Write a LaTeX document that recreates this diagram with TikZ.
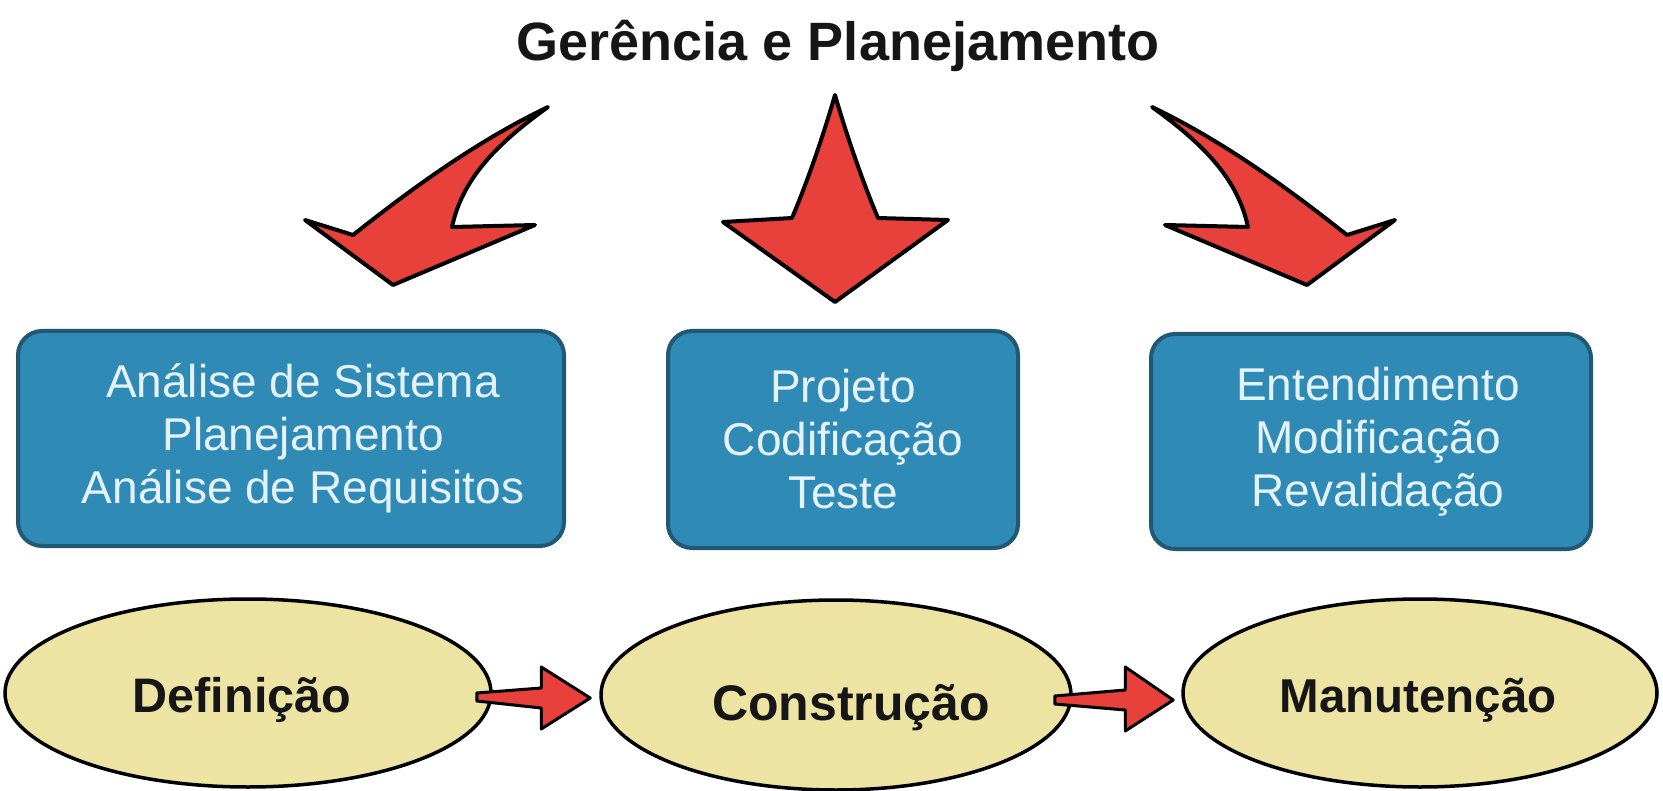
\documentclass[tikz,border=0pt]{standalone}
\usepackage{fontspec}
\setmainfont{Liberation Sans}
\usetikzlibrary{calc,shapes.geometric}
\definecolor{arrowred}{RGB}{232,64,58}
\definecolor{boxfill}{RGB}{47,138,181}
\definecolor{boxline}{RGB}{33,88,118}
\definecolor{boxtext}{RGB}{228,242,252}
\definecolor{ellfill}{RGB}{237,228,164}
\definecolor{inktext}{RGB}{22,22,22}
\tikzset{
  titletext/.style={font=\fontsize{54}{62}\selectfont\bfseries, text=inktext},
  phasebox/.style={draw=boxline, line width=4pt, fill=boxfill, rounded corners=24pt,
    inner sep=0pt},
  boxlabel/.style={align=center, text=boxtext, font=\fontsize{46}{53}\selectfont, inner sep=0pt},
  phaseell/.style={ellipse, draw=black, line width=3.5pt, fill=ellfill, inner sep=0pt},
  elltext/.style={text=inktext, inner sep=0pt},
  bigarrow/.style={draw=black, line width=4pt, fill=arrowred, line join=round},
  smallarrow/.style={draw=black, line width=3pt, fill=arrowred, line join=round}
}
\begin{document}
\begin{tikzpicture}[x=1pt,y=-1pt]
\useasboundingbox (0,0) rectangle (1663,791);

% title
\node[titletext, anchor=base] (title) at (838,61) {Gerência e Planejamento};

% big arrows
\filldraw[bigarrow] (548,107) .. controls (475,142) and (410,190) .. (353,235)
  -- (305,220) -- (393,285) -- (535,225) -- (452,227)
  .. controls (462,180) and (495,145) .. (548,107) -- cycle;
\filldraw[bigarrow] (835,95) .. controls (822,140) and (806,185) .. (792,218)
  -- (723,222) -- (835,302) -- (948,220) -- (878,218)
  .. controls (864,185) and (848,140) .. (835,95) -- cycle;
\filldraw[bigarrow] (1152,107) .. controls (1225,142) and (1290,190) .. (1347,235)
  -- (1395,220) -- (1307,285) -- (1165,225) -- (1248,227)
  .. controls (1238,180) and (1205,145) .. (1152,107) -- cycle;

% boxes
\node[phasebox, minimum width=546pt, minimum height=215pt] (b1) at (291,438.5) {};
\node[phasebox, minimum width=350pt, minimum height=217pt] (b2) at (843,439.5) {};
\node[phasebox, minimum width=440pt, minimum height=215pt] (b3) at (1371,441.5) {};
\node[boxlabel] (bt1) at ($(b1.center)+(12,0)$) {Análise de Sistema\\Planejamento\\Análise de Requisitos};
\node[boxlabel] (bt2) at ($(b2.center)+(0,0)$) {Projeto\\Codificação\\Teste};
\node[boxlabel] (bt3) at ($(b3.center)+(7,0)$) {Entendimento\\Modificação\\Revalidação};

% ellipses
\node[phaseell, minimum width=486pt, minimum height=188pt] (e1) at (248,693) {};
\node[phaseell, minimum width=470pt, minimum height=190pt] (e2) at (836,695) {};
\node[phaseell, minimum width=474pt, minimum height=188pt] (e3) at (1420,693) {};
\node[elltext, anchor=base, font=\fontsize{48.5}{56}\selectfont\bfseries] (l1) at (242,712) {Definição};
\node[elltext, anchor=base, font=\fontsize{50}{58}\selectfont\bfseries] (l2) at (851,720) {Construção};
\node[elltext, anchor=base, font=\fontsize{47.5}{54}\selectfont\bfseries] (l3) at (1418,712) {Manutenção};

% small arrows between ellipses
\coordinate (s1) at ($(e1.east)+(-16,4)$);
\coordinate (t1) at ($(e2.west)+(-9,3)$);
\filldraw[smallarrow] ($(s1)+(0,-4)$) -- ($(t1)+(-49,-10)$) -- ($(t1)+(-49,-31)$) -- (t1)
  -- ($(t1)+(-49,31)$) -- ($(t1)+(-49,10)$) -- ($(s1)+(0,4)$) -- cycle;
\coordinate (s2) at ($(e2.east)+(-18,5)$);
\coordinate (t2) at ($(e3.west)+(-8,7)$);
\filldraw[smallarrow] ($(s2)+(0,-4)$) -- ($(t2)+(-48,-10)$) -- ($(t2)+(-48,-33)$) -- (t2)
  -- ($(t2)+(-48,31)$) -- ($(t2)+(-48,10)$) -- ($(s2)+(0,4)$) -- cycle;
\end{tikzpicture}
\end{document}
